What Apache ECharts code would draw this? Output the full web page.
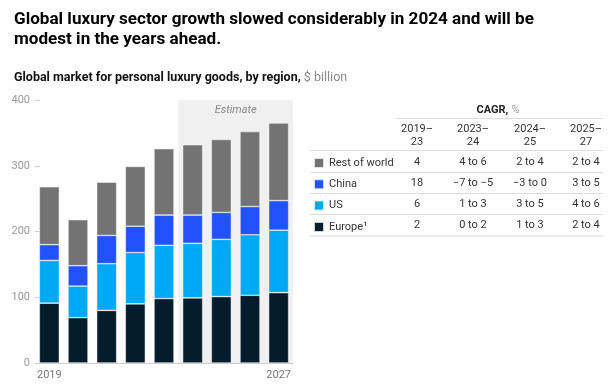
<!DOCTYPE html>
<html>
<head>
<meta charset="utf-8">
<script src="https://cdn.jsdelivr.net/npm/echarts@6/dist/echarts.min.js"></script>
<style>
html,body{margin:0;padding:0;background:#fff;}
#chart{width:610px;height:385px;}
</style>
</head>
<body>
<div id="chart"></div>
<script>
// ---- data ----
const categories = ['2019','2020','2021','2022','2023','2024','2025','2026','2027'];
const estimateFrom = '2024';
const europe = [91, 69, 80, 90, 98, 99, 101, 103, 107];
const us     = [65, 48, 71, 78, 81, 83, 87, 92, 95];
const china  = [24, 31, 43, 40, 46, 43, 41, 43, 45];
const rest   = [88, 70, 81, 91, 101, 107, 111, 114, 118];
const seriesNames = ['Europe\u00b9', 'US', 'China', 'Rest of world'];
const legendOrder = ['Rest of world', 'China', 'US', 'Europe\u00b9'];
const yTicks = [0, 100, 200, 300, 400];
const cagrPeriods = ['2019\u2013\n23', '2023\u2013\n24', '2024\u2013\n25', '2025\u2013\n27'];
const cagrRest   = ['4', '4 to 6', '2 to 4', '2 to 4'];
const cagrChina  = ['18', '\u22127 to \u22125', '\u22123 to 0', '3 to 5'];
const cagrUS     = ['6', '1 to 3', '3 to 5', '4 to 6'];
const cagrEurope = ['2', '0 to 2', '1 to 3', '2 to 4'];

const colors = {'Rest of world':'#737373', 'China':'#2251ff', 'US':'#00a9f4', 'Europe\u00b9':'#051c2c'};
const FONT = 'Roboto, "Liberation Sans", Arial, sans-serif';

const chart = echarts.init(document.getElementById('chart'), null, {renderer:'canvas'});
const valuesByName = {'Europe\u00b9': europe, 'US': us, 'China': china, 'Rest of world': rest};

const barSeries = seriesNames.map(n => ({
  name: n, type: 'bar', stack: 'total', data: valuesByName[n],
  barWidth: 20,
  itemStyle: {color: colors[n], borderColor: 'rgba(255,255,255,0.8)', borderWidth: 0.6},
  emphasis: {disabled: true}
}));

const estIdx = categories.indexOf(estimateFrom);

// table graphics
const colX = [417, 473, 530, 586];
const rowY = [162, 183, 204, 225.5];
const tableRows = [cagrRest, cagrChina, cagrUS, cagrEurope];
const g = [];
const lineStyle = {stroke: '#dcdcdc', lineWidth: 1.2};
g.push({type:'text', silent:true, style:{
  x: 498, y: 110, text: '{b|CAGR,} {n|%}', align:'center', verticalAlign:'middle',
  rich: {b:{fontFamily:FONT, fontSize:11, fontWeight:'bold', fill:'#222'}, n:{fontFamily:FONT, fontSize:11, fontWeight:'normal', fill:'#999'}}
}});
g.push({type:'line', silent:true, shape:{x1:396, y1:118.5, x2:603, y2:118.5}, style: lineStyle});
cagrPeriods.forEach((p, i) => {
  g.push({type:'text', silent:true, style:{x: colX[i], y: 135.5, text: p, align:'center', verticalAlign:'middle',
    font: '11px ' + FONT, fill:'#333', lineHeight: 12.5}});
});
g.push({type:'line', silent:true, shape:{x1:310, y1:150.5, x2:603, y2:150.5}, style: lineStyle});
tableRows.forEach((row, r) => {
  row.forEach((v, i) => {
    g.push({type:'text', silent:true, style:{x: colX[i], y: rowY[r], text: v, align:'center', verticalAlign:'middle',
      font: '11px ' + FONT, fill:'#333'}});
  });
  g.push({type:'line', silent:true, shape:{x1:310, y1:rowY[r]+10.5, x2:603, y2:rowY[r]+10.5}, style: lineStyle});
});

const option = {
  animation: false,
  textStyle: {fontFamily: FONT},
  title: [
    {text: 'Global luxury sector growth slowed considerably in 2024 and will be\nmodest in the years ahead.',
     left: 9, top: 5,
     textStyle: {fontFamily: FONT, fontSize: 17.1, fontWeight: 'bold', color: '#000', lineHeight: 20}},
    {text: '{b|Global market for personal luxury goods, by region,}{n| $ billion}',
     left: 9, top: 66,
     textStyle: {fontWeight: 'normal', rich: {b:{fontFamily: FONT, fontSize: 12.5, fontWeight:'bold', color:'#111'}, n:{fontFamily: FONT, fontSize: 12.5, fontWeight:'normal', color:'#888'}}}}
  ],
  legend: {
    data: legendOrder, orient: 'vertical', left: 308, top: 152,
    icon: 'rect', itemWidth: 10, itemHeight: 10, itemGap: 9.3,
    selectedMode: false,
    textStyle: {fontFamily: FONT, fontSize: 11, color: '#333', lineHeight: 12}
  },
  grid: {left: 35, right: 317, top: 100, bottom: 22, containLabel: false},
  xAxis: [
    {type: 'category', data: categories,
     axisLine: {lineStyle: {color: '#cccccc'}},
     axisTick: {show: false},
     axisLabel: {color: '#777', fontSize: 11, margin: 7,
       interval: (i) => i === 0 || i === categories.length - 1}},
    {type: 'value', min: 0, max: categories.length, show: false}
  ],
  yAxis: {type: 'value', min: yTicks[0], max: yTicks[yTicks.length-1], interval: 100,
    axisLine: {show: false},
    axisTick: {show: true, inside: true, length: 5, lineStyle: {color: '#cccccc'}},
    splitLine: {show: false},
    axisLabel: {color: '#999', fontSize: 11, margin: 5}
  },
  graphic: g,
  series: [
    {type: 'line', xAxisIndex: 1, yAxisIndex: 0, data: [], silent: true,
     markArea: {silent: true, itemStyle: {color: '#f0f0f0'},
       label: {show: true, position: 'insideTop', distance: 5, formatter: 'Estimate',
         fontStyle: 'italic', color: '#888', fontSize: 11, fontFamily: FONT},
       data: [[{xAxis: estIdx, yAxis: yTicks[0]}, {xAxis: categories.length, yAxis: yTicks[yTicks.length-1]}]]}}
  ].concat(barSeries)
};
chart.setOption(option);
</script>
</body>
</html>
